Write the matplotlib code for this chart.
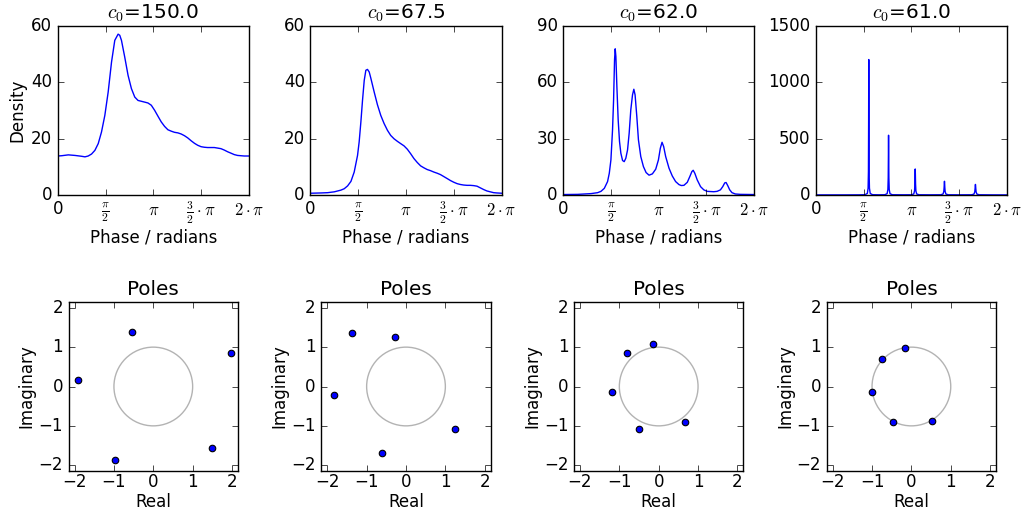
import numpy as np
import matplotlib
matplotlib.use("Agg")
import matplotlib.pyplot as plt
from matplotlib.patches import Circle

# ---------------------------------------------------------------------------
# Data
# ---------------------------------------------------------------------------
c0_values = [150.0, 67.5, 62.0, 61.0]

# Phase samples are given in units of pi.
phase_150 = [0, 0.042, 0.111, 0.181, 0.25, 0.285, 0.319, 0.354, 0.389, 0.424,
             0.458, 0.493, 0.528, 0.563, 0.597, 0.632, 0.649, 0.667, 0.701, 0.736,
             0.771, 0.806, 0.840, 0.875, 0.910, 0.944, 0.979, 1.014, 1.049, 1.083,
             1.118, 1.153, 1.188, 1.222, 1.257, 1.292, 1.326, 1.361, 1.396, 1.431,
             1.465, 1.5, 1.535, 1.569, 1.604, 1.639, 1.674, 1.708, 1.743, 1.778,
             1.813, 1.847, 1.882, 1.917, 1.951, 2.0]
density_150 = [13.8, 13.9, 14.2, 14.0, 13.7, 13.5, 13.8, 14.5, 15.8, 18.2,
               22.3, 28.2, 36.5, 47.1, 54.8, 57.0, 56.6, 54.8, 48.9, 42.4,
               37.7, 34.7, 33.5, 33.2, 32.9, 32.6, 31.8, 30.0, 27.9, 25.9,
               24.3, 23.1, 22.6, 22.2, 22.0, 21.6, 21.0, 20.2, 19.2, 18.3,
               17.6, 17.1, 16.9, 16.8, 16.8, 16.8, 16.6, 16.4, 15.9, 15.3,
               14.8, 14.3, 14.0, 13.9, 13.8, 13.8]

phase_67 = [0, 0.111, 0.181, 0.25, 0.319, 0.354, 0.389, 0.424, 0.458, 0.493,
            0.510, 0.528, 0.545, 0.563, 0.580, 0.597, 0.615, 0.632, 0.667, 0.701,
            0.736, 0.771, 0.806, 0.840, 0.875, 0.910, 0.944, 0.979, 1.014, 1.049,
            1.083, 1.118, 1.153, 1.188, 1.222, 1.257, 1.292, 1.326, 1.361, 1.396,
            1.431, 1.465, 1.5, 1.535, 1.569, 1.604, 1.639, 1.674, 1.708, 1.743,
            1.778, 1.813, 1.847, 1.882, 1.917, 1.951, 2.0]
density_67 = [0.6, 0.7, 0.8, 1.1, 1.7, 2.2, 3.2, 4.8, 8.1, 14.0,
              18.8, 25.9, 33.5, 40.6, 44.2, 44.5, 43.6, 41.4, 36.5, 32.0,
              28.2, 25.3, 22.9, 21.1, 19.9, 19.0, 18.2, 17.4, 16.2, 14.6,
              12.9, 11.5, 10.3, 9.6, 9.0, 8.6, 8.1, 7.7, 7.2, 6.5,
              5.8, 5.1, 4.5, 4.0, 3.7, 3.5, 3.4, 3.4, 3.3, 3.1,
              2.5, 1.9, 1.4, 1.1, 0.8, 0.7, 0.6]

phase_62 = [0, 0.153, 0.292, 0.361, 0.396, 0.431, 0.465, 0.483, 0.5, 0.517,
            0.528, 0.538, 0.545, 0.552, 0.5625, 0.576, 0.590, 0.604, 0.622, 0.639,
            0.656, 0.674, 0.691, 0.708, 0.726, 0.740, 0.753, 0.771, 0.788, 0.8125,
            0.840, 0.868, 0.899, 0.934, 0.969, 0.997, 1.017, 1.035, 1.052, 1.073,
            1.108, 1.142, 1.177, 1.212, 1.236, 1.264, 1.299, 1.326, 1.347, 1.361,
            1.378, 1.403, 1.438, 1.472, 1.507, 1.542, 1.576, 1.611, 1.646, 1.670,
            1.691, 1.705, 1.722, 1.743, 1.767, 1.802, 1.854, 2.0]
density_62 = [0.2, 0.3, 0.7, 1.2, 1.9, 3.5, 7.1, 11.5, 18.6, 34.6,
              50.5, 71.8, 77.7, 73.6, 57.6, 39.9, 28.4, 22.2, 18.3, 17.7,
              19.5, 23.9, 32.8, 45.2, 53.2, 56.2, 53.2, 41.7, 29.3, 20.4,
              15.1, 11.9, 10.5, 11.2, 13.7, 18.6, 24.8, 28.0, 25.7, 20.4,
              14.2, 10.1, 7.1, 5.5, 5.0, 5.1, 6.7, 9.8, 12.4, 13.1,
              11.5, 8.0, 4.4, 2.7, 1.9, 1.8, 1.7, 1.9, 2.7, 4.4,
              6.4, 6.6, 5.0, 2.7, 1.2, 0.5, 0.3, 0.2]

phase_61 = [0, 0.3, 0.45,
            0.514, 0.539, 0.547, 0.5505, 0.5525, 0.554, 0.5555, 0.5575, 0.561, 0.569, 0.594,
            0.66,
            0.721, 0.746, 0.754, 0.7575, 0.7595, 0.761, 0.7625, 0.7645, 0.768, 0.776, 0.801,
            0.92,
            1.0, 1.025, 1.033, 1.0365, 1.0385, 1.040, 1.0415, 1.0435, 1.047, 1.055, 1.080,
            1.19,
            1.306, 1.331, 1.339, 1.3425, 1.3445, 1.346, 1.3475, 1.3495, 1.353, 1.361, 1.386,
            1.5,
            1.630, 1.655, 1.663, 1.6665, 1.6685, 1.670, 1.6715, 1.6735, 1.677, 1.685, 1.710,
            1.85, 2.0]
density_61 = [0.1, 0.2, 0.6,
              1.9, 13, 60, 207, 640, 1200, 640, 207, 60, 13, 1.9,
              1.0,
              1.6, 11, 48, 150, 361, 529, 361, 150, 48, 11, 1.6,
              0.9,
              1.3, 8.8, 36, 97, 184, 230, 184, 97, 36, 8.8, 1.3,
              0.8,
              1.2, 8, 30, 68, 106, 121, 106, 68, 30, 8, 1.2,
              0.7,
              1.2, 7.7, 27, 58, 84, 93, 84, 58, 27, 7.7, 1.2,
              0.3, 0.1]

poles_real_150 = [-1.92, -0.53, 1.97, 1.48, -0.98]
poles_imag_150 = [0.17, 1.38, 0.86, -1.57, -1.88]
poles_real_67 = [-1.83, -1.37, -0.29, 1.25, -0.62]
poles_imag_67 = [-0.22, 1.35, 1.27, -1.07, -1.70]
poles_real_62 = [-0.14, -0.81, -1.19, -0.49, 0.67]
poles_imag_62 = [1.07, 0.84, -0.15, -1.09, -0.90]
poles_real_61 = [-0.17, -0.74, -1.01, -0.47, 0.52]
poles_imag_61 = [0.99, 0.69, -0.13, -0.91, -0.87]

density_ymax = [60, 60, 90, 1500]
density_yticks = [[0, 20, 40, 60], [0, 20, 40, 60], [0, 30, 60, 90],
                  [0, 500, 1000, 1500]]

phase_ticks_pi = [0, 0.5, 1.0, 1.5, 2.0]
phase_ticklabels = ['0', r'$\frac{\pi}{2}$', r'$\pi$',
                    r'$\frac{3}{2}\cdot\pi$', r'$2\cdot\pi$']
pole_ticks = [-2, -1, 0, 1, 2]
pole_limit = 2.15

phases = [phase_150, phase_67, phase_62, phase_61]
densities = [density_150, density_67, density_62, density_61]
poles_real = [poles_real_150, poles_real_67, poles_real_62, poles_real_61]
poles_imag = [poles_imag_150, poles_imag_67, poles_imag_62, poles_imag_61]

# ---------------------------------------------------------------------------
# Figure
# ---------------------------------------------------------------------------
plt.style.use('classic')
plt.rcParams['mathtext.fontset'] = 'cm'

fig, axes = plt.subplots(2, 4, figsize=(10.27, 5.2), dpi=100)
fig.subplots_adjust(left=0.0562, right=0.9805, top=0.9506, bottom=0.094,
                    wspace=0.322, hspace=0.632)

for i in range(4):
    ax = axes[0, i]
    x = np.asarray(phases[i]) * np.pi
    ax.plot(x, densities[i], color='b', lw=1.0)
    ax.set_xlim(0, 2 * np.pi)
    ax.set_ylim(0, density_ymax[i])
    ax.set_yticks(density_yticks[i])
    ax.set_xticks(np.asarray(phase_ticks_pi) * np.pi)
    ax.set_xticklabels(phase_ticklabels)
    ax.set_xlabel('Phase / radians', labelpad=1.5)
    ax.set_title(r'$c_0$=' + f'{c0_values[i]:.1f}')
    if i == 0:
        ax.set_ylabel('Density', labelpad=3)

    bx = axes[1, i]
    bx.add_patch(Circle((0, 0), 1.0, fill=False, edgecolor='0.7', lw=1.0))
    bx.scatter(poles_real[i], poles_imag[i], s=22, c='b', edgecolors='k',
               linewidths=0.8, zorder=3)
    bx.set_xlim(-pole_limit, pole_limit)
    bx.set_ylim(-pole_limit, pole_limit)
    bx.set_xticks(pole_ticks)
    bx.set_yticks(pole_ticks)
    bx.tick_params(axis='x', pad=1.5)
    bx.set_aspect('equal', adjustable='box')
    bx.set_title('Poles')
    bx.set_xlabel('Real', labelpad=1.5)
    bx.set_ylabel('Imaginary', labelpad=2)

fig.savefig('out.png', dpi=100, facecolor='white')
